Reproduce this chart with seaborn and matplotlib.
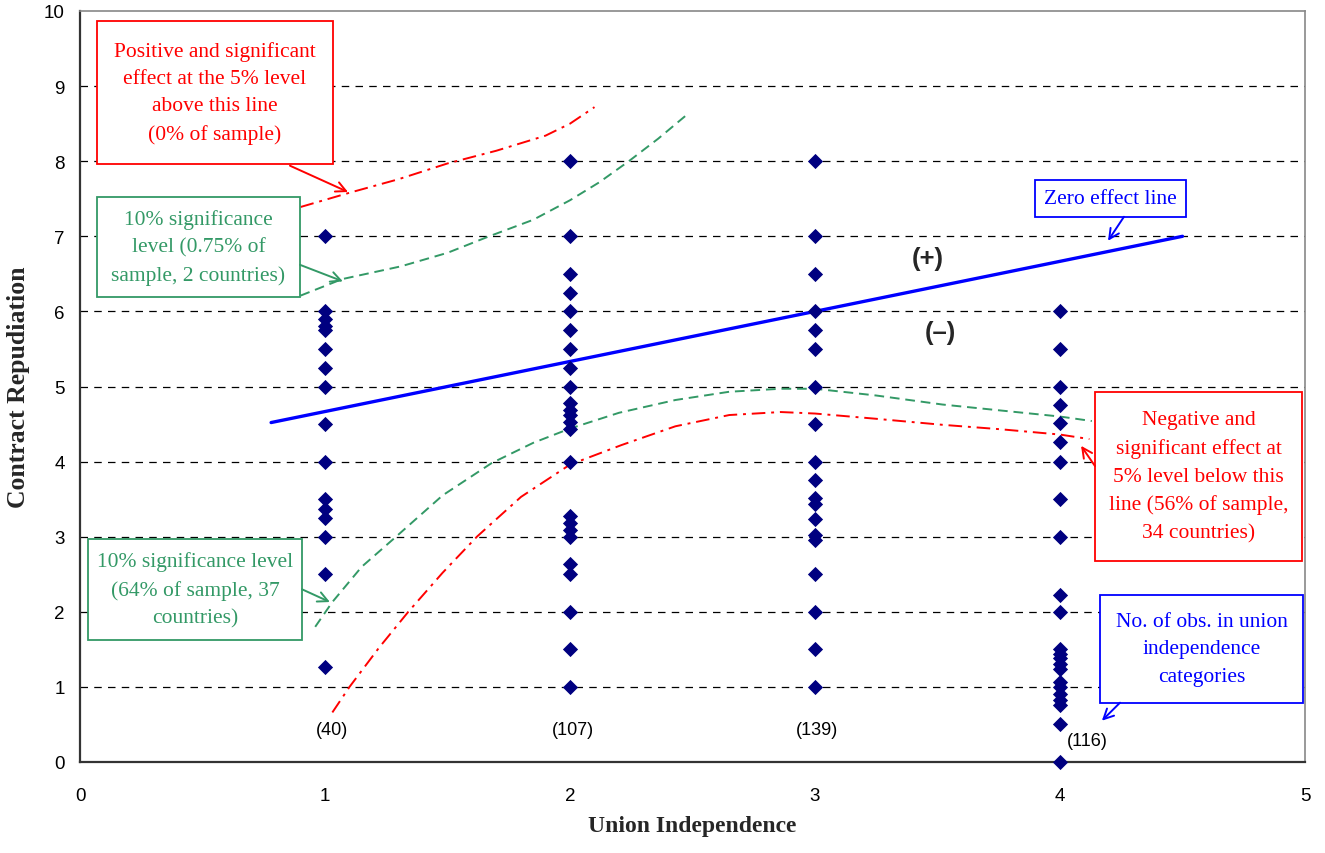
import matplotlib
matplotlib.use('Agg')
import numpy as np
import pandas as pd
import seaborn as sns
import matplotlib.pyplot as plt
from matplotlib.patches import Rectangle

union_cats = [1, 2, 3, 4]
repud_cat1 = [7, 6.0, 5.9, 5.8, 5.75, 5.5, 5.25, 5.0, 4.5, 4.0, 3.5, 3.37, 3.25, 3.0, 2.5, 1.27]
repud_cat2 = [8, 7, 6.5, 6.25, 6, 5.75, 5.5, 5.25, 5, 4.78, 4.69, 4.62, 4.53, 4.44, 4,
              3.27, 3.18, 3.09, 3, 2.64, 2.5, 2, 1.5, 1]
repud_cat3 = [8, 7, 6.5, 6, 5.75, 5.5, 5, 4.5, 4, 3.76, 3.51, 3.44, 3.24, 3.02, 2.96,
              2.5, 2, 1.5, 1]
repud_cat4 = [6, 5.5, 5, 4.76, 4.51, 4.26, 4, 3.5, 3, 2.22, 2, 1.51, 1.44, 1.38, 1.31,
              1.24, 1.07, 1.0, 0.91, 0.82, 0.76, 0.51, 0.0]
obs_counts = [40, 107, 139, 116]

# zero effect line
zero_x = [0.78, 4.5]
zero_y = [4.52, 7.0]

# 5% significance bounds
red_up_x = [0.9, 1.1, 1.3, 1.5, 1.7, 1.9, 2.0, 2.1]
red_up_y = [7.39, 7.58, 7.76, 7.97, 8.14, 8.34, 8.5, 8.72]
red_lo_x = [1.03, 1.1, 1.22, 1.34, 1.48, 1.62, 1.8, 2.0, 2.21, 2.43, 2.65, 2.86, 3.0, 3.25, 3.52, 3.76, 4.0, 4.12]
red_lo_y = [0.66, 1.0, 1.52, 2.0, 2.52, 3.0, 3.53, 3.96, 4.22, 4.47, 4.62, 4.66, 4.64, 4.57, 4.49, 4.43, 4.36, 4.30]

# 10% significance bounds
green_up_x = [0.9, 1.07, 1.31, 1.5, 1.67, 1.85, 2.0, 2.12, 2.24, 2.36, 2.47]
green_up_y = [6.21, 6.43, 6.6, 6.78, 7.0, 7.22, 7.48, 7.72, 8.0, 8.3, 8.6]
green_lo_x = [0.96, 1.03, 1.15, 1.29, 1.48, 1.68, 1.85, 2.0, 2.2, 2.43, 2.65, 2.86, 3.0, 3.25, 3.52, 3.76, 4.0, 4.13]
green_lo_y = [1.8, 2.13, 2.6, 3.0, 3.55, 3.98, 4.25, 4.44, 4.65, 4.82, 4.93, 4.97, 4.97, 4.88, 4.76, 4.68, 4.6, 4.54]

df = pd.DataFrame({
    'Union Independence': np.repeat(union_cats, [len(repud_cat1), len(repud_cat2),
                                                  len(repud_cat3), len(repud_cat4)]),
    'Contract Repudiation': repud_cat1 + repud_cat2 + repud_cat3 + repud_cat4,
})

sns.set_style('white')
plt.rcParams['font.family'] = ['Liberation Sans', 'DejaVu Sans']

RED = '#FF0000'
GREEN = '#339966'
BLUE = '#0000FF'
SERIF = ['Liberation Serif', 'DejaVu Serif']

fig = plt.figure(figsize=(13.25, 8.54), dpi=100)
ax = fig.add_axes([80 / 1325, 1 - 763 / 854, 1225 / 1325, 751 / 854])

ax.set_xlim(0, 5)
ax.set_ylim(0, 10)
ax.set_yticks(range(0, 11))
ax.set_xticks(range(0, 6))
for yv in range(1, 10):
    ax.axhline(yv, color='black', lw=0.9, ls=(0, (6, 5)), zorder=0)

ax.plot(zero_x, zero_y, color=BLUE, lw=2.4, zorder=2)
ax.plot(red_up_x, red_up_y, color=RED, lw=1.4, ls=(0, (7, 3, 1.5, 3)), zorder=2)
ax.plot(red_lo_x, red_lo_y, color=RED, lw=1.4, ls=(0, (7, 3, 1.5, 3)), zorder=2)
ax.plot(green_up_x, green_up_y, color=GREEN, lw=1.4, ls=(0, (5, 3)), zorder=2)
ax.plot(green_lo_x, green_lo_y, color=GREEN, lw=1.4, ls=(0, (5, 3)), zorder=2)

sns.scatterplot(data=df, x='Union Independence', y='Contract Repudiation', ax=ax,
                marker='D', color='#000080', s=60, edgecolor='#000080', linewidth=0,
                zorder=3, clip_on=False)

# count labels under each column
count_pos = [(1.03, 0.43), (2.01, 0.43), (3.01, 0.43), (4.11, 0.28)]
for n, (cx, cy) in zip(obs_counts, count_pos):
    ax.text(cx, cy, '(%d)' % n, ha='center', va='center', fontsize=13, color='black')

ax.text(3.46, 6.71, '(+)', ha='center', va='center', fontsize=18.5, fontweight='bold')
ax.text(3.51, 5.73, '(\u2013)', ha='center', va='center', fontsize=18.5, fontweight='bold')


def note(x0, x1, y0, y1, text, color, tail, tip):
    ax.add_patch(Rectangle((x0, y0), x1 - x0, y1 - y0, facecolor='white',
                           edgecolor=color, lw=1.3, zorder=4))
    ax.text((x0 + x1) / 2, (y0 + y1) / 2, text, ha='center', va='center', color=color,
            fontsize=15.5, family=SERIF, linespacing=1.6, zorder=5)
    ax.annotate('', xy=tip, xytext=tail, zorder=5,
                arrowprops=dict(arrowstyle='->', color=color, lw=1.4,
                                shrinkA=0, shrinkB=0, mutation_scale=18))


note(0.069, 1.033, 7.96, 9.87,
     'Positive and significant\neffect at the 5% level\nabove this line\n(0% of sample)',
     RED, (0.857, 7.94), (1.094, 7.59))
note(0.069, 0.898, 6.19, 7.52,
     '10% significance\nlevel (0.75% of\nsample, 2 countries)',
     GREEN, (0.898, 6.62), (1.073, 6.40))
note(0.033, 0.906, 1.62, 2.97,
     '10% significance level\n(64% of sample, 37\ncountries)',
     GREEN, (0.906, 2.30), (1.02, 2.13))
note(3.898, 4.514, 7.26, 7.75, 'Zero effect line',
     BLUE, (4.261, 7.26), (4.196, 6.94))
note(4.143, 4.988, 2.68, 4.93,
     'Negative and\nsignificant effect at\n5% level below this\nline (56% of sample,\n34 countries)',
     RED, (4.143, 3.94), (4.086, 4.21))
note(4.163, 4.992, 0.79, 2.22,
     'No. of obs. in union\nindependence\ncategories',
     BLUE, (4.245, 0.79), (4.171, 0.55))

for side in ['top', 'right']:
    ax.spines[side].set_color('#888888')
    ax.spines[side].set_linewidth(1.2)
for side in ['left', 'bottom']:
    ax.spines[side].set_color('#333333')
    ax.spines[side].set_linewidth(1.6)

ax.tick_params(axis='both', direction='out', length=5, width=1.2, color='#333333',
               labelsize=13.5, labelcolor='black')
ax.tick_params(axis='x', pad=13)
ax.tick_params(axis='y', pad=6)

ax.set_xlabel('Union Independence', family=SERIF, fontweight='bold', fontsize=17, labelpad=8)
ax.set_ylabel('Contract Repudiation', family=SERIF, fontweight='bold', fontsize=18.5, labelpad=10)

fig.savefig('out.png', dpi=100)
